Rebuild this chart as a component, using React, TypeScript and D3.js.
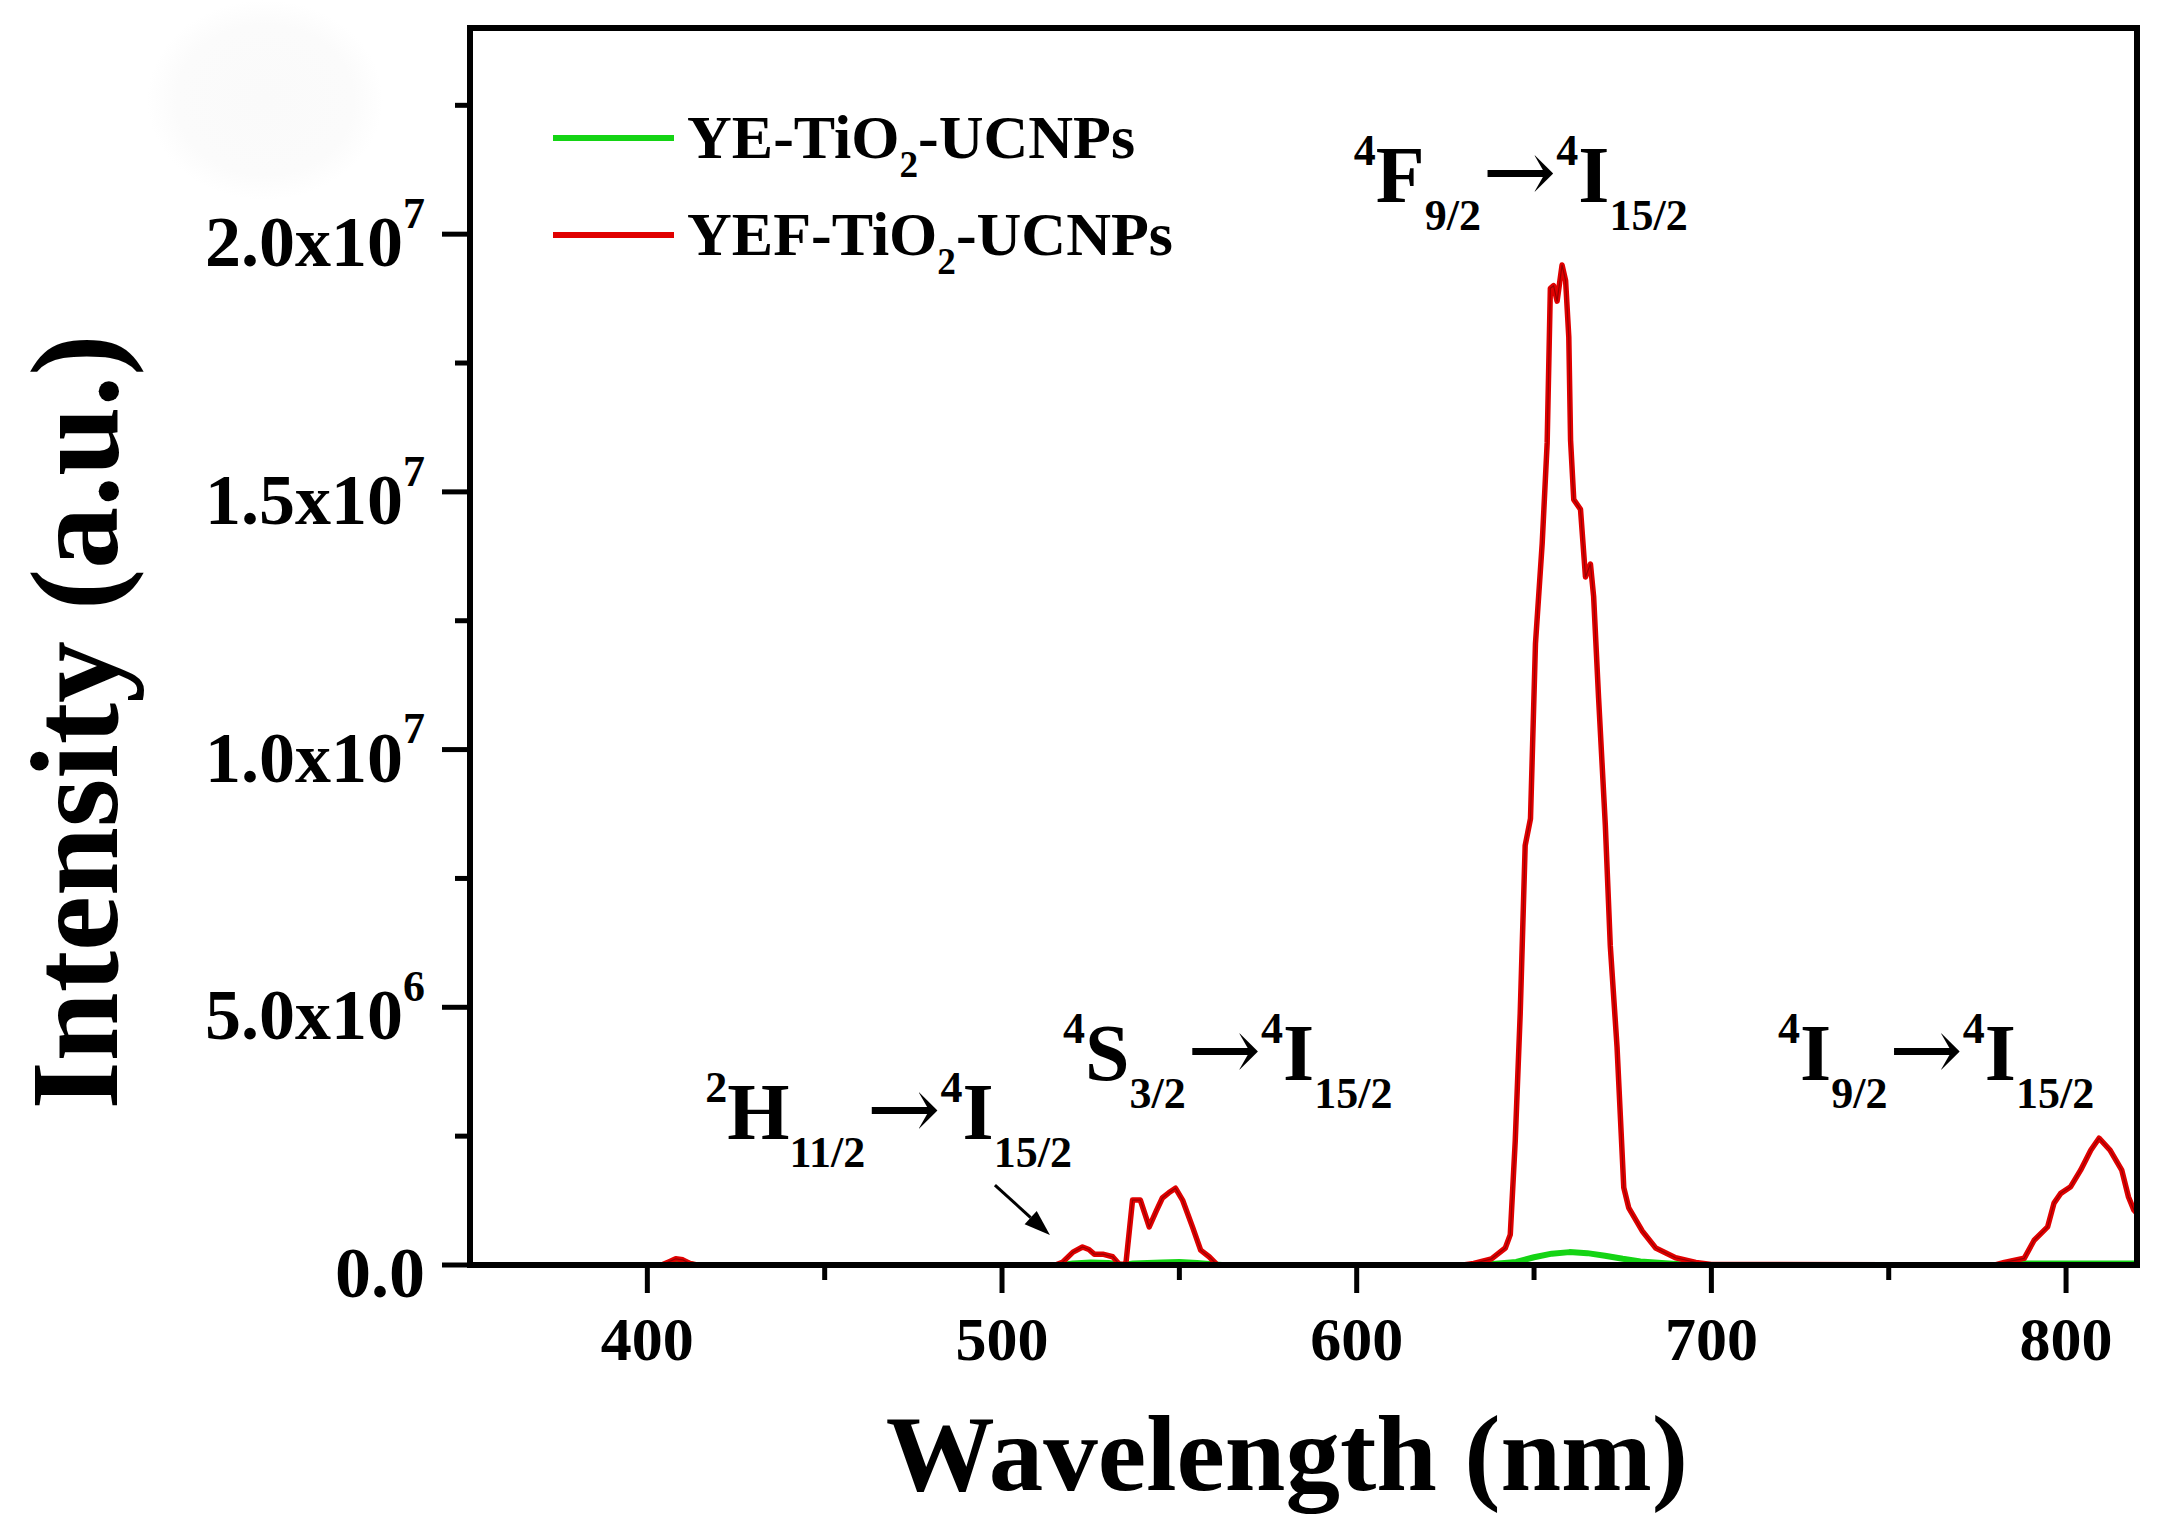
import React from 'react';
import * as d3 from 'd3';

// ---- data ----
const redWavelength = [350, 400, 404, 406, 408, 410, 412, 414, 515, 517, 520, 522.7, 524.5, 526, 528.4, 531.2, 533, 534.9, 536.8, 539, 541.5, 543.5, 545.2, 547, 548.9, 550.9, 553.7, 556, 558.4, 560.7, 630, 633, 638, 641.9, 643.3, 644.7, 646.1, 647.5, 649, 650.4, 652.3, 653.7, 654.6, 655.5, 656.5, 657.9, 658.9, 659.8, 660.3, 661.2, 663.1, 664.5, 665.9, 666.8, 668.2, 670.1, 671.5, 673.4, 675.3, 676.7, 680.5, 684.3, 689.9, 695.6, 700, 780, 782.6, 788.2, 791, 794.8, 796.6, 798.5, 801.3, 804.1, 807, 809.3, 812.4, 815.7, 817.6, 819.1, 820];
const redIntensity = [0, 0, 0, 6e4, 1.2e5, 1.0e5, 3e4, 0, 0, 5e4, 2.5e5, 3.5e5, 3.0e5, 2.1e5, 2.1e5, 1.6e5, 2e4, 1e4, 1.26e6, 1.26e6, 7.4e5, 1.05e6, 1.3e6, 1.4e6, 1.49e6, 1.26e6, 7.4e5, 2.9e5, 1.6e5, 0, 0, 3e4, 1.2e5, 3.3e5, 5.9e5, 2.41e6, 4.88e6, 8.14e6, 8.66e6, 1.205e7, 1.4e7, 1.595e7, 1.895e7, 1.9e7, 1.87e7, 1.94e7, 1.91e7, 1.8e7, 1.6e7, 1.485e7, 1.466e7, 1.335e7, 1.36e7, 1.297e7, 1.1e7, 8.53e6, 6.19e6, 4.23e6, 1.5e6, 1.11e6, 6.6e5, 3.3e5, 1.4e5, 5e4, 1e4, 0, 5e4, 1.3e5, 4.8e5, 7.4e5, 1.2e6, 1.39e6, 1.52e6, 1.84e6, 2.23e6, 2.46e6, 2.23e6, 1.84e6, 1.32e6, 1.07e6, 1.0e6];

const greenWavelength = [350, 405, 407, 409, 411, 413, 517, 520, 525, 530, 534, 537, 545, 550, 555, 560, 562, 635, 645, 650, 655, 660, 665, 670, 675, 680, 690, 695, 782, 785, 820];
const greenIntensity = [0, 0, 4e4, 6e4, 4e4, 0, 0, 3e4, 5e4, 4e4, 0, 3e4, 5e4, 6e4, 4e4, 1e4, 0, 0, 6e4, 1.5e5, 2.2e5, 2.5e5, 2.3e5, 1.8e5, 1.2e5, 7e4, 2e4, 0, 0, 3e4, 3e4];

const xDomain = [350, 820];
const yDomain = [0, 2.4e7];
const xMajorTicks = [400, 500, 600, 700, 800];
const xMinorTicks = [450, 550, 650, 750];
const yMajorTicks = [0, 5e6, 1e7, 1.5e7, 2e7];
const yMinorTicks = [2.5e6, 7.5e6, 1.25e7, 1.75e7, 2.25e7];
const yTickMantissa = ['0.0', '5.0x10', '1.0x10', '1.5x10', '2.0x10'];
const yTickExponent = ['', '6', '7', '7', '7'];

type Seg = [string, 'n' | 'sup' | 'sub' | 'arrow'];
const legendLabels: Seg[][] = [
  [['YE-TiO', 'n'], ['2', 'sub'], ['-UCNPs', 'n']],
  [['YEF-TiO', 'n'], ['2', 'sub'], ['-UCNPs', 'n']],
];
const legendColors = ['#14d414', '#e00000'];

const annotationTexts: Seg[][] = [
  [['2', 'sup'], ['H', 'n'], ['11/2', 'sub'], ['\u2192', 'arrow'], ['4', 'sup'], ['I', 'n'], ['15/2', 'sub']],
  [['4', 'sup'], ['S', 'n'], ['3/2', 'sub'], ['\u2192', 'arrow'], ['4', 'sup'], ['I', 'n'], ['15/2', 'sub']],
  [['4', 'sup'], ['F', 'n'], ['9/2', 'sub'], ['\u2192', 'arrow'], ['4', 'sup'], ['I', 'n'], ['15/2', 'sub']],
  [['4', 'sup'], ['I', 'n'], ['9/2', 'sub'], ['\u2192', 'arrow'], ['4', 'sup'], ['I', 'n'], ['15/2', 'sub']],
];
const annotationWavelength = [416.3, 517.2, 599.2, 718.8];
const annotationIntensity = [2.44e6, 3.59e6, 2.063e7, 3.59e6];

const arrowFrom = [498, 1.55e6];
const arrowTo = [513.5, 0.58e6];

const FONT = "'Liberation Serif', 'Times New Roman', serif";

function Rich({ x, y, fs, segs, anchor = 'start', small = 0.55, supShift = -0.46, subShift = 0.35 }: any) {
  let cur = 0;
  return (
    <text x={x} y={y} fontSize={fs} textAnchor={anchor} fontFamily={FONT} fontWeight="bold" fill="#000">
      {segs.map(([t, k]: Seg, i: number) => {
        const target = k === 'sup' ? supShift * fs : k === 'sub' ? subShift * fs : 0;
        const dy = target - cur;
        cur = target;
        if (k === 'arrow') {
          return (
            <tspan key={i} dy={dy} dx={0.02 * fs} fontSize={fs * 1.1} fontFamily="'DejaVu Serif', serif" fontWeight="normal">
              {t}
            </tspan>
          );
        }
        return (
          <tspan key={i} dy={dy} fontSize={k === 'n' ? fs : small * fs}>
            {t}
          </tspan>
        );
      })}
    </text>
  );
}

export default function App() {
  const W = 2166, H = 1527;
  const left = 470, right = 2137, top = 28, bottom = 1265;
  const x = d3.scaleLinear().domain(xDomain).range([left, right]);
  const y = d3.scaleLinear().domain(yDomain).range([bottom, top]);

  const line = d3.line<[number, number]>().x((d) => x(d[0])).y((d) => y(d[1]));
  const redPts: [number, number][] = redWavelength.map((w, i) => [w, redIntensity[i]]);
  const greenPts: [number, number][] = greenWavelength.map((w, i) => [w, greenIntensity[i]]);

  const ax = x(arrowFrom[0]), ay = y(arrowFrom[1]);
  const bx = x(arrowTo[0]), by = y(arrowTo[1]);
  const ang = Math.atan2(by - ay, bx - ax);
  const hl = 26, hw = 9;
  const headBase = [bx - hl * Math.cos(ang), by - hl * Math.sin(ang)];
  const head = [
    [bx, by],
    [headBase[0] + hw * Math.sin(ang), headBase[1] - hw * Math.cos(ang)],
    [headBase[0] - hw * Math.sin(ang), headBase[1] + hw * Math.cos(ang)],
  ];

  return (
    <svg width={W} height={H} style={{ position: 'absolute', left: 0, top: 0, background: '#fff' }}>
      <defs>
        <radialGradient id="blob">
          <stop offset="0%" stopColor="#fafafa" />
          <stop offset="75%" stopColor="#fbfbfb" />
          <stop offset="100%" stopColor="#ffffff" />
        </radialGradient>
        <clipPath id="plotclip">
          <rect x={left} y={top - 2} width={right - left} height={bottom - top + 8} />
        </clipPath>
      </defs>
      <rect x={0} y={0} width={W} height={H} fill="#fff" />
      <ellipse cx={265} cy={100} rx={118} ry={100} fill="url(#blob)" />

      {/* curves */}
      <g clipPath="url(#plotclip)">
        <path d={line(greenPts) || ''} fill="none" stroke="#14d414" strokeWidth={6} strokeLinejoin="round" />
        <path d={line(redPts) || ''} fill="none" stroke="#e00000" strokeWidth={5.5} strokeLinejoin="round" />
        <path d={line(redPts) || ''} fill="none" stroke="#500000" strokeWidth={1.2} strokeOpacity={0.5} strokeLinejoin="round" />
      </g>

      {/* frame */}
      <rect x={left} y={top} width={right - left} height={bottom - top} fill="none" stroke="#000" strokeWidth={6} />

      {/* x ticks */}
      {xMajorTicks.map((t) => (
        <g key={'xM' + t}>
          <line x1={x(t)} x2={x(t)} y1={bottom} y2={bottom + 28} stroke="#000" strokeWidth={5} />
          <text x={x(t)} y={1360} fontSize={62} textAnchor="middle" fontFamily={FONT} fontWeight="bold">
            {t}
          </text>
        </g>
      ))}
      {xMinorTicks.map((t) => (
        <line key={'xm' + t} x1={x(t)} x2={x(t)} y1={bottom} y2={bottom + 15} stroke="#000" strokeWidth={5} />
      ))}

      {/* y ticks */}
      {yMajorTicks.map((t, i) => (
        <g key={'yM' + t}>
          <line x1={left} x2={left - 28} y1={y(t)} y2={y(t)} stroke="#000" strokeWidth={5} />
          <Rich
            x={425}
            y={y(t) + 32}
            fs={72}
            anchor="end"
            small={0.61}
            supShift={-0.53}
            segs={yTickExponent[i] ? [[yTickMantissa[i], 'n'], [yTickExponent[i], 'sup']] : [[yTickMantissa[i], 'n']]}
          />
        </g>
      ))}
      {yMinorTicks.map((t) => (
        <line key={'ym' + t} x1={left} x2={left - 15} y1={y(t)} y2={y(t)} stroke="#000" strokeWidth={5} />
      ))}

      {/* axis titles */}
      <text x={1287} y={1490} fontSize={109} textAnchor="middle" fontFamily={FONT} fontWeight="bold">
        Wavelength (nm)
      </text>
      <text
        transform={`translate(117,722) rotate(-90)`}
        fontSize={124}
        textAnchor="middle"
        fontFamily={FONT}
        fontWeight="bold"
      >
        Intensity (a.u.)
      </text>

      {/* legend */}
      {legendLabels.map((segs, i) => (
        <g key={'lg' + i}>
          <line x1={553} x2={674} y1={138 + i * 97} y2={138 + i * 97} stroke={legendColors[i]} strokeWidth={6} />
          <Rich x={687} y={158 + i * 97} fs={62} segs={segs} small={0.6} subShift={0.3} />
        </g>
      ))}

      {/* annotations */}
      {annotationTexts.map((segs, i) => (
        <Rich key={'an' + i} x={x(annotationWavelength[i])} y={y(annotationIntensity[i])} fs={80} segs={segs} />
      ))}

      {/* arrow */}
      <line x1={ax} y1={ay} x2={headBase[0]} y2={headBase[1]} stroke="#000" strokeWidth={3} />
      <polygon points={head.map((p) => p.join(',')).join(' ')} fill="#000" />
    </svg>
  );
}
